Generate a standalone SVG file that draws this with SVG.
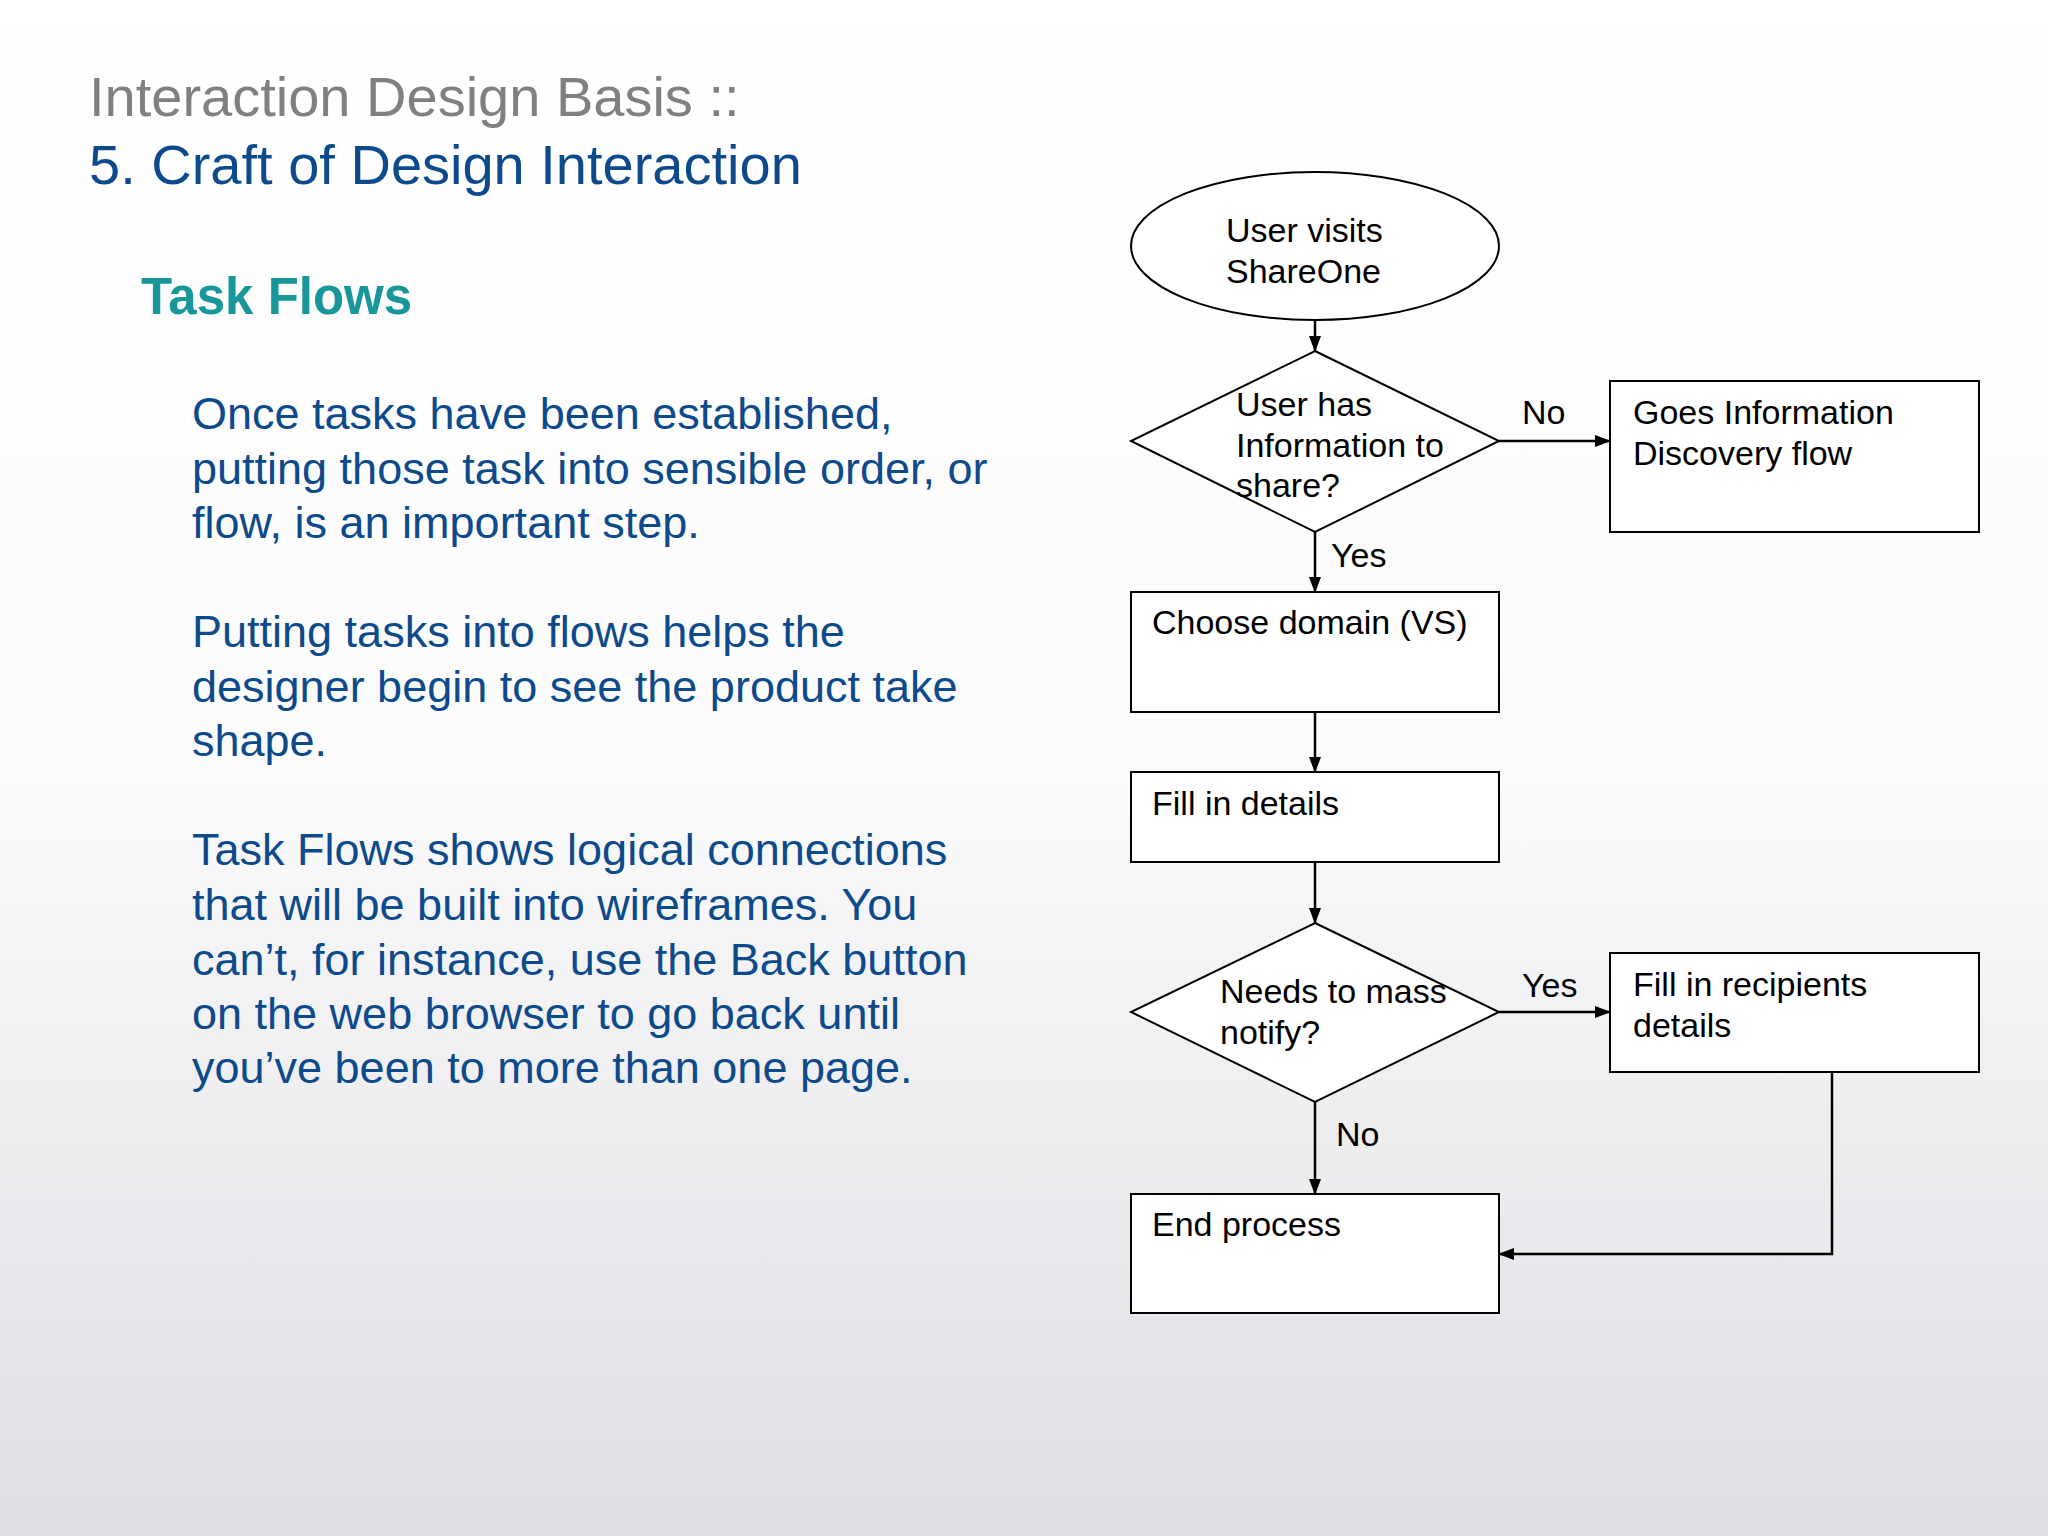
<svg xmlns="http://www.w3.org/2000/svg" width="2048" height="1536" viewBox="0 0 2048 1536">
<defs>
<linearGradient id="bg" x1="0" y1="0" x2="0" y2="1">
<stop offset="0" stop-color="#ffffff"/><stop offset="0.5" stop-color="#fbfbfc"/><stop offset="1" stop-color="#dedde2"/>
</linearGradient>
<marker id="ah" markerWidth="16" markerHeight="14" refX="15" refY="7" orient="auto" markerUnits="userSpaceOnUse">
<path d="M0,1 L16,7 L0,13 Z" fill="#000"/>
</marker>
<style>
.s{fill:#fff;stroke:#000;stroke-width:2}
.t{font-family:"Liberation Sans",Arial,sans-serif;font-size:34px;fill:#000}
.b{font-family:"Liberation Sans",Arial,sans-serif;font-size:45px;fill:#0d4a8c}
.c{stroke:#000;stroke-width:2.5;fill:none;marker-end:url(#ah)}
</style>
</defs>
<rect width="2048" height="1536" fill="url(#bg)"/>
<text x="89" y="116" font-family="Liberation Sans,Arial,sans-serif" font-size="56" fill="#808080">Interaction Design Basis ::</text>
<text x="89" y="184" font-family="Liberation Sans,Arial,sans-serif" font-size="56" fill="#0d4a8c">5. Craft of Design Interaction</text>
<text x="141" y="314" font-family="Liberation Sans,Arial,sans-serif" font-size="51" font-weight="bold" fill="#17979a">Task Flows</text>
<g>
<text class="b" x="192" y="429">Once tasks have been established,</text>
<text class="b" x="192" y="484">putting those task into sensible order, or</text>
<text class="b" x="192" y="538">flow, is an important step.</text>
<text class="b" x="192" y="647">Putting tasks into flows helps the</text>
<text class="b" x="192" y="702">designer begin to see the product take</text>
<text class="b" x="192" y="756">shape.</text>
<text class="b" x="192" y="865">Task Flows shows logical connections</text>
<text class="b" x="192" y="920">that will be built into wireframes. You</text>
<text class="b" x="192" y="975">can’t, for instance, use the Back button</text>
<text class="b" x="192" y="1029">on the web browser to go back until</text>
<text class="b" x="192" y="1083">you’ve been to more than one page.</text>
</g>
<g id="connectors">
<line class="c" x1="1315" y1="320" x2="1315" y2="351"/>
<line class="c" x1="1499" y1="441" x2="1610" y2="441"/>
<line class="c" x1="1315" y1="532" x2="1315" y2="592"/>
<line class="c" x1="1315" y1="712" x2="1315" y2="772"/>
<line class="c" x1="1315" y1="862" x2="1315" y2="923"/>
<line class="c" x1="1499" y1="1012" x2="1610" y2="1012"/>
<line class="c" x1="1315" y1="1102" x2="1315" y2="1194"/>
<polyline class="c" points="1832,1072 1832,1254 1499,1254"/>
<text class="t" x="1522" y="424">No</text>
<text class="t" x="1331" y="567">Yes</text>
<text class="t" x="1522" y="997">Yes</text>
<text class="t" x="1336" y="1146">No</text>
</g>
<g id="start"><ellipse class="s" cx="1315" cy="246" rx="184" ry="74"/>
<text class="t" x="1226" y="242">User visits</text><text class="t" x="1226" y="283">ShareOne</text></g>
<g id="d1"><polygon class="s" points="1315,351 1499,441 1315,532 1131,441"/>
<text class="t" x="1236" y="416">User has</text><text class="t" x="1236" y="457">Information to</text><text class="t" x="1236" y="497">share?</text></g>
<g id="discovery"><rect class="s" x="1610" y="381" width="369" height="151"/>
<text class="t" x="1633" y="424">Goes Information</text><text class="t" x="1633" y="465">Discovery flow</text></g>
<g id="domain"><rect class="s" x="1131" y="592" width="368" height="120"/>
<text class="t" x="1152" y="634">Choose domain (VS)</text></g>
<g id="fill"><rect class="s" x="1131" y="772" width="368" height="90"/>
<text class="t" x="1152" y="815">Fill in details</text></g>
<g id="d2"><polygon class="s" points="1315,923 1499,1012 1315,1102 1131,1012"/>
<text class="t" x="1220" y="1003">Needs to mass</text><text class="t" x="1220" y="1044">notify?</text></g>
<g id="recip"><rect class="s" x="1610" y="953" width="369" height="119"/>
<text class="t" x="1633" y="996">Fill in recipients</text><text class="t" x="1633" y="1037">details</text></g>
<g id="end"><rect class="s" x="1131" y="1194" width="368" height="119"/>
<text class="t" x="1152" y="1236">End process</text></g>
</svg>
